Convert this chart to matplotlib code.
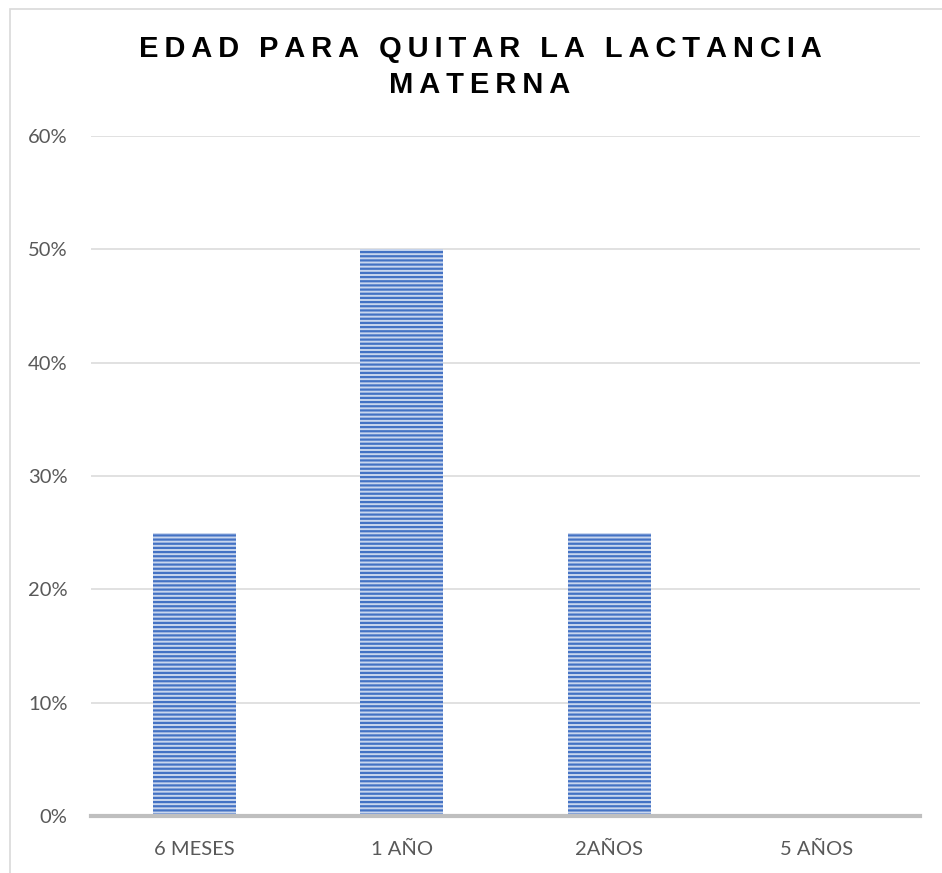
import matplotlib
matplotlib.use("Agg")
import matplotlib.pyplot as plt
from matplotlib.patches import Rectangle
from matplotlib.ticker import PercentFormatter

categories = ["6 MESES", "1 AÑO", "2AÑOS", "5 AÑOS"]
values = [0.25, 0.50, 0.25, 0.0]
yticks = [0.0, 0.1, 0.2, 0.3, 0.4, 0.5, 0.6]
title_lines = ["EDAD PARA QUITAR LA LACTANCIA", "MATERNA"]

W, H = 942, 873
fig = plt.figure(figsize=(W / 100, H / 100), dpi=100)

# outer chart border
fig.patches.append(Rectangle((10 / W, -0.1), 1.2, (H - 9) / H + 0.1, transform=fig.transFigure,
                             fill=False, edgecolor="#D9D9D9", linewidth=1.2))

ax = fig.add_axes([91 / W, (H - 816) / H, (920 - 91) / W, (816 - 136) / H])
x = list(range(len(categories)))
plt.rcParams['hatch.color'] = '#4472C4'
plt.rcParams['hatch.linewidth'] = 1.6
ax.bar(x, values, width=0.4, color="#C9D6EE", edgecolor="#4472C4", linewidth=0,
       hatch="----", zorder=3)
ax.set_xlim(-0.5, len(categories) - 0.5)
ax.set_ylim(0, 0.6)
ax.set_yticks(yticks)
ax.yaxis.set_major_formatter(PercentFormatter(1.0, decimals=0))
ax.set_xticks(x)
ax.set_xticklabels(categories)
for s in ["top", "right", "left"]:
    ax.spines[s].set_visible(False)
ax.spines["bottom"].set_color("#BFBFBF")
ax.spines["bottom"].set_linewidth(3)
ax.spines["bottom"].set_zorder(4)
ax.grid(axis="y", color="#D9D9D9", linewidth=1.1, zorder=0)
ax.tick_params(axis="both", length=0, labelsize=14.5, labelcolor="#595959")
ax.tick_params(axis="y", pad=17)
ax.tick_params(axis="x", pad=18)
for lab in ax.get_xticklabels() + ax.get_yticklabels():
    lab.set_family(["Lato", "DejaVu Sans"])

sp = "\u2009"
for i, line in enumerate(title_lines):
    spaced = sp.join(list(line))
    fig.text(480 / W, 1 - (49 + 36 * i) / H, spaced, ha="center", va="center",
             fontsize=21, fontweight="bold", color="#000000",
             family=["Liberation Sans", "DejaVu Sans"])

fig.savefig("out.png", dpi=100)
